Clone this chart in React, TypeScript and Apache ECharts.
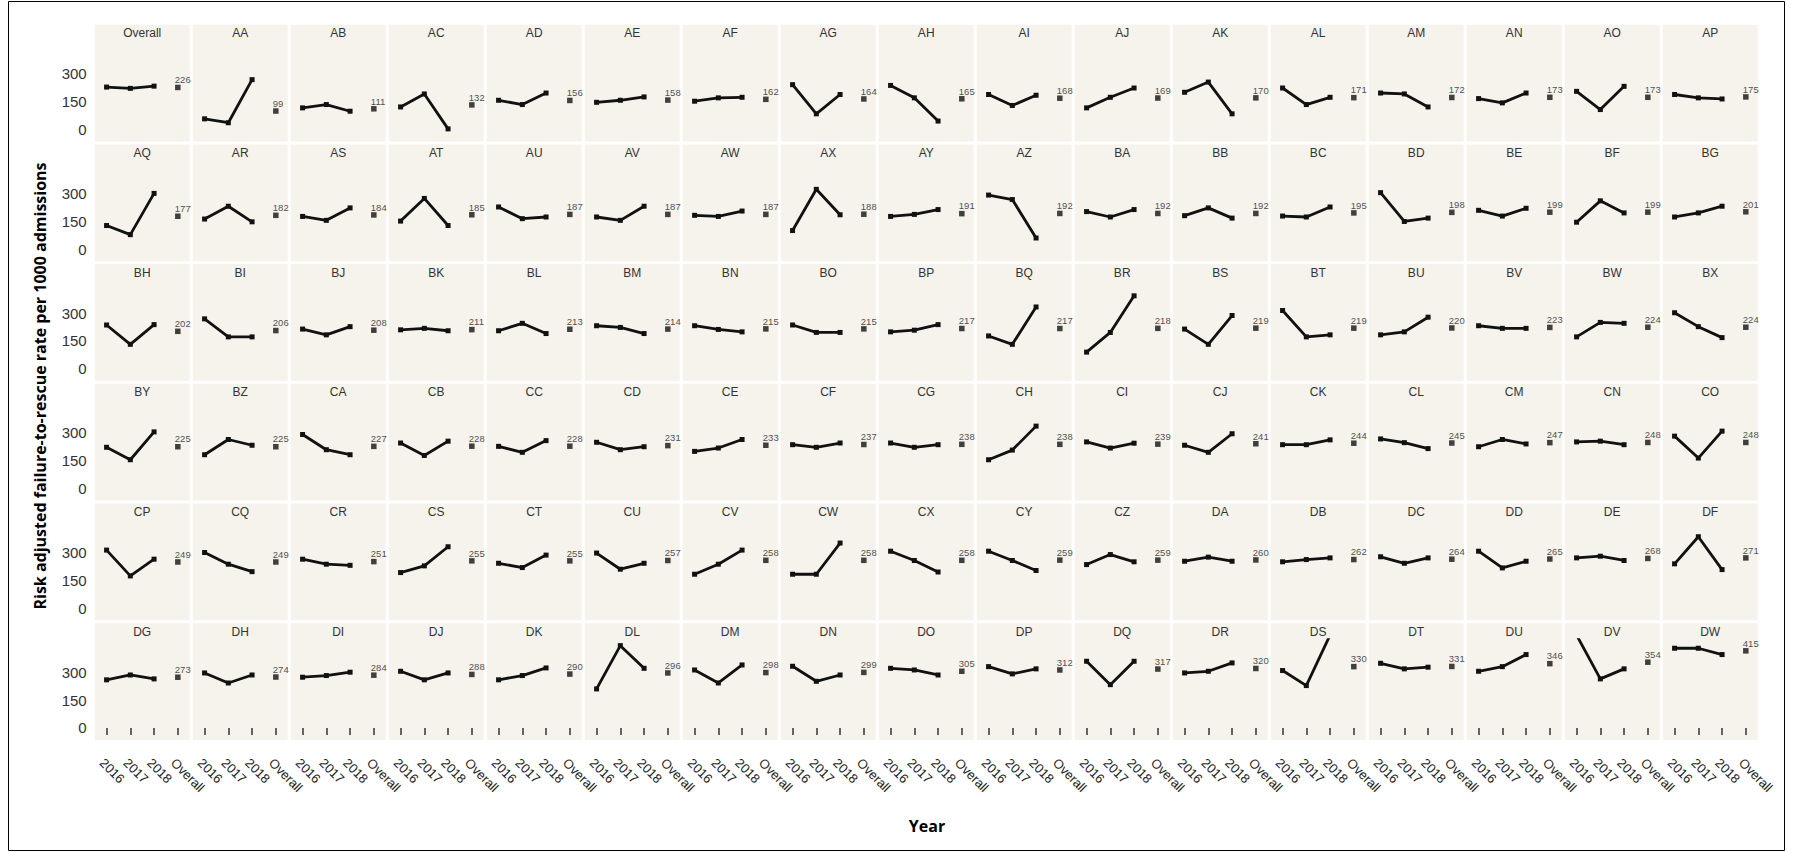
import { useEffect, useRef } from 'react';
import * as echarts from 'echarts';

const names = [
  'Overall','AA','AB','AC','AD','AE','AF','AG','AH','AI','AJ','AK','AL','AM','AN','AO','AP',
  'AQ','AR','AS','AT','AU','AV','AW','AX','AY','AZ','BA','BB','BC','BD','BE','BF','BG',
  'BH','BI','BJ','BK','BL','BM','BN','BO','BP','BQ','BR','BS','BT','BU','BV','BW','BX',
  'BY','BZ','CA','CB','CC','CD','CE','CF','CG','CH','CI','CJ','CK','CL','CM','CN','CO',
  'CP','CQ','CR','CS','CT','CU','CV','CW','CX','CY','CZ','DA','DB','DC','DD','DE','DF',
  'DG','DH','DI','DJ','DK','DL','DM','DN','DO','DP','DQ','DR','DS','DT','DU','DV','DW',
];

const v2016 = [
  228, 57, 116, 121, 157, 146, 152, 241, 237, 188, 116, 200, 223, 196, 166, 205, 188,
  127, 162, 176, 151, 227, 173, 182, 100, 176, 291, 202, 180, 178, 304, 209, 145, 173,
  236, 269, 214, 210, 205, 232, 232, 236, 199, 177, 90, 214, 314, 183, 232, 172, 302,
  222, 182, 291, 245, 227, 249, 200, 236, 245, 155, 251, 233, 236, 267, 225, 251, 282,
  313, 300, 264, 192, 242, 297, 183, 183, 307, 307, 235, 253, 250, 277, 307, 271, 239,
  259, 296, 273, 305, 259, 210, 312, 332, 321, 330, 359, 296, 309, 348, 305, 500, 429,
];

const v2017 = [
  221, 36, 134, 191, 134, 157, 170, 84, 170, 129, 173, 255, 134, 191, 143, 107, 170,
  78, 231, 155, 273, 164, 155, 176, 322, 187, 267, 173, 222, 173, 149, 178, 260, 195,
  132, 172, 183, 218, 245, 223, 212, 196, 208, 132, 196, 132, 172, 199, 218, 250, 227,
  155, 264, 209, 178, 195, 209, 218, 222, 222, 207, 218, 195, 236, 247, 264, 255, 164,
  174, 237, 237, 228, 219, 210, 237, 183, 257, 257, 289, 275, 262, 242, 217, 280, 385,
  285, 242, 282, 259, 282, 443, 242, 251, 312, 291, 233, 305, 228, 318, 330, 264, 429,
];

const v2018 = [
  233, 268, 98, 3, 196, 175, 173, 188, 45, 184, 223, 84, 173, 121, 196, 232, 164,
  300, 147, 222, 127, 173, 231, 205, 185, 213, 60, 213, 167, 227, 167, 220, 195, 231,
  238, 172, 227, 205, 190, 190, 199, 196, 238, 333, 393, 287, 183, 278, 218, 245, 168,
  305, 233, 182, 255, 258, 225, 264, 245, 236, 336, 244, 295, 262, 215, 240, 236, 309,
  264, 197, 231, 331, 286, 242, 313, 351, 195, 203, 250, 253, 271, 271, 253, 257, 208,
  264, 285, 300, 296, 323, 321, 339, 285, 285, 318, 359, 350, 500, 327, 395, 318, 395,
];

const overall = [
  226, 99, 111, 132, 156, 158, 162, 164, 165, 168, 169, 170, 171, 172, 173, 173, 175,
  177, 182, 184, 185, 187, 187, 187, 188, 191, 192, 192, 192, 195, 198, 199, 199, 201,
  202, 206, 208, 211, 213, 214, 215, 215, 217, 217, 218, 219, 219, 220, 223, 224, 224,
  225, 225, 227, 228, 228, 231, 233, 237, 238, 238, 239, 241, 244, 245, 247, 248, 248,
  249, 249, 251, 255, 255, 257, 258, 258, 258, 259, 259, 260, 262, 264, 265, 268, 271,
  273, 274, 284, 288, 290, 296, 298, 299, 305, 312, 317, 320, 330, 331, 346, 354, 415,
];

const years = ['2016', '2017', '2018', 'Overall'];
const yTicks = [0, 150, 300];
const yTitle = 'Risk adjusted failure-to-rescue rate per 1000 admissions';
const xTitle = 'Year';

const SANS = "'Liberation Sans', Arial, Helvetica, sans-serif";
const BOLD = "'Open Sans', 'DejaVu Sans', sans-serif";
const BG = '#F5F3EC';

const COLS = 17;
const ROWS = 6;
const X0 = 94.7;
const PITCH_X = 98.0;
const PW = 95.0;
const Y0 = 24.7;
const PITCH_Y = 119.7;
const STRIP = 16.5;
const GH = 100.3;
const YMIN = -65;
const YMAX = 475;

function buildOption() {
  const grids: any[] = [];
  const xAxes: any[] = [];
  const yAxes: any[] = [];
  const series: any[] = [];
  const graphics: any[] = [];

  graphics.push({
    type: 'rect',
    shape: { x: 8.5, y: 1.5, width: 1776, height: 849 },
    style: { fill: 'none', stroke: '#000', lineWidth: 1 },
    silent: true,
    z: 0,
  });

  names.forEach((name, i) => {
    const r = Math.floor(i / COLS);
    const c = i % COLS;
    const left = X0 + c * PITCH_X;
    const top = Y0 + r * PITCH_Y;
    const bottomRow = r === ROWS - 1;

    graphics.push({
      type: 'rect',
      shape: { x: left, y: top, width: PW, height: STRIP + GH },
      style: { fill: BG },
      silent: true,
      z: 0,
    });
    graphics.push({
      type: 'text',
      x: left + PW / 2,
      y: top + 8.5,
      style: {
        text: name,
        fontSize: 12,
        fontFamily: SANS,
        fill: '#333',
        align: 'center',
        verticalAlign: 'middle',
      },
      silent: true,
      z: 1,
    });

    grids.push({ left, top: top + STRIP, width: PW, height: GH, show: false, containLabel: false });

    xAxes.push({
      type: 'category',
      gridIndex: i,
      data: years,
      boundaryGap: true,
      axisLine: { show: false },
      axisTick: {
        show: bottomRow,
        alignWithLabel: true,
        length: 7,
        lineStyle: { color: '#333', width: 1.5 },
      },
      axisLabel: {
        show: bottomRow,
        interval: 0,
        rotate: -45,
        align: 'left',
        verticalAlign: 'top',
        fontSize: 13,
        fontFamily: SANS,
        color: '#222',
        margin: 16,
        hideOverlap: false,
      },
      splitLine: { show: false },
    });

    yAxes.push({
      type: 'value',
      gridIndex: i,
      min: YMIN,
      max: YMAX,
      axisLine: { show: false },
      axisTick: { show: false },
      splitLine: { show: false },
      axisLabel: {
        show: c === 0,
        customValues: yTicks,
        fontSize: 15,
        fontFamily: SANS,
        color: '#333',
        margin: 8,
      },
    });

    series.push({
      type: 'line',
      xAxisIndex: i,
      yAxisIndex: i,
      data: [v2016[i], v2017[i], v2018[i]],
      symbol: 'rect',
      symbolSize: 5,
      showAllSymbol: true,
      clip: true,
      silent: true,
      lineStyle: { color: '#111', width: 2.8 },
      itemStyle: { color: '#111' },
      z: 3,
    });

    series.push({
      type: 'scatter',
      xAxisIndex: i,
      yAxisIndex: i,
      data: [['Overall', overall[i]]],
      symbol: 'rect',
      symbolSize: 5.5,
      silent: true,
      itemStyle: { color: '#111' },
      label: {
        show: true,
        position: 'top',
        distance: 0,
        align: 'left',
        offset: [-3, 0],
        fontSize: 9.5,
        fontFamily: SANS,
        color: '#222',
        formatter: (p: any) => String(p.value[1]),
      },
      z: 3,
    });
  });

  graphics.push({
    type: 'text',
    x: 40,
    y: 386,
    rotation: Math.PI / 2,
    style: {
      text: yTitle,
      fontSize: 16,
      fontWeight: 'bold',
      fontFamily: BOLD,
      fill: '#000',
      align: 'center',
      verticalAlign: 'middle',
    },
    silent: true,
    z: 1,
  });
  graphics.push({
    type: 'text',
    x: 927,
    y: 826,
    style: {
      text: xTitle,
      fontSize: 16,
      fontWeight: 'bold',
      fontFamily: BOLD,
      fill: '#000',
      align: 'center',
      verticalAlign: 'middle',
    },
    silent: true,
    z: 1,
  });

  return {
    animation: false,
    backgroundColor: '#fff',
    grid: grids,
    xAxis: xAxes,
    yAxis: yAxes,
    series,
    graphic: { elements: graphics },
  };
}

export default function App() {
  const ref = useRef<HTMLDivElement>(null);
  useEffect(() => {
    if (!ref.current) return;
    const chart = echarts.init(ref.current, undefined, { renderer: 'svg' });
    chart.setOption(buildOption() as any);
    return () => chart.dispose();
  }, []);
  return (
    <div
      ref={ref}
      style={{ position: 'fixed', left: 0, top: 0, width: 1793, height: 853, background: '#fff' }}
    />
  );
}
